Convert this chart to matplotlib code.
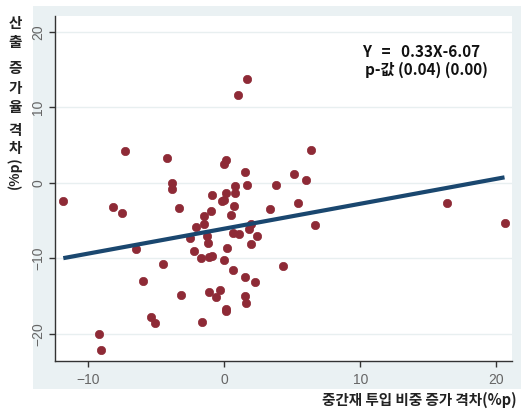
import matplotlib
matplotlib.use("Agg")
import matplotlib.pyplot as plt
from matplotlib.patches import Rectangle
import numpy as np

# data
x_vals = [1.69, 0.98, -7.3, -4.24, 0.0, 0.1, 1.5, 5.1, -3.82, -3.82, 1.69, 0.81, 0.81, 3.8,
          -11.84, -8.2, -7.52, -3.3, -0.9, 0.1, -0.15, -0.05, 0.69, -1.0, 0.49, -1.52, -1.52,
          3.38, 5.45, -2.1, -2.52, -1.27, -1.22, -2.23, -1.71, -1.1, -0.9, 0.17, -0.02, 0.66,
          1.06, 1.79, 1.96, 2.4, 1.99, -6.51, -4.5, 0.64, 1.5, 2.28, 4.32, -6.0, -3.2, -1.12,
          -0.29, -0.61, 1.5, 1.6, 0.1, 0.15, -5.39, -5.07, -1.62, -9.21, -9.1, 6.4, 6.0, 6.7,
          16.4, 20.6]
y_vals = [13.8, 11.6, 4.28, 3.27, 2.47, 3.05, 1.37, 1.19, 0.04, -0.8, -0.26, -0.4, -1.37, -0.35,
          -2.47, -3.18, -4.06, -3.3, -1.55, -1.28, -2.47, -2.25, -3.13, -3.67, -4.24, -4.33, -5.43,
          -3.44, -2.72, -5.83, -7.28, -7.1, -7.99, -9.05, -9.93, -9.76, -9.71, -8.57, -10.24, -6.58,
          -6.72, -6.14, -5.47, -6.98, -8.04, -8.7, -10.77, -11.57, -12.5, -13.2, -11.0, -12.98, -14.83, -14.48,
          -14.17, -15.1, -14.97, -15.9, -16.73, -16.95, -17.8, -18.6, -18.4, -19.96, -22.1, 4.37, 0.4, -5.56,
          -2.65, -5.34]
slope = 0.33
intercept = -6.07
x_ticks = [-10, 0, 10, 20]
y_ticks = [-20, -10, 0, 10, 20]
eq_text = "Y   =   0.33X-6.07"
p_text = "p-값 (0.04) (0.00)"
xlabel = "중간재 투입 비중 증가 격차(%p)"
ylabel_chars = ["산", "출", "증", "가", "율", "격", "차"]
ylabel_tail = "(%p)"

W, H = 521, 416
fig = plt.figure(figsize=(W / 100, H / 100), dpi=100)
fig.patch.set_facecolor("white")

# light blue-gray graph region
fig.patches.append(Rectangle((33 / W, 1 - 389 / H), 1 - 33 / W, (389 - 6) / H,
                             transform=fig.transFigure, facecolor="#EAF1F3",
                             edgecolor="none", zorder=-5))

ax = fig.add_axes([55 / W, 1 - 361 / H, (512 - 55) / W, (361 - 16) / H])
ax.set_zorder(2)
ax.set_facecolor("white")

ax.set_xlim(-12.45, 21.15)
ax.set_ylim(-23.6, 22.1)

for yt in y_ticks:
    ax.axhline(yt, color="#E8EFF0", lw=1.0, zorder=1)

ax.scatter(x_vals, y_vals, s=36, color="#8E2A36", edgecolors="#8E2A36", linewidths=0.5, zorder=3)

xs = np.array([min(x_vals), max(x_vals)])
ax.plot(xs, slope * xs + intercept, color="#1A476F", lw=3.0, zorder=4, solid_capstyle="butt")

for s in ["top", "right"]:
    ax.spines[s].set_visible(False)
for s in ["left", "bottom"]:
    ax.spines[s].set_color("#333333")
    ax.spines[s].set_linewidth(1.0)

ax.set_xticks(x_ticks)
ax.set_yticks(y_ticks)
ax.tick_params(axis="both", direction="out", length=4, width=1, color="#333333",
               labelcolor="#666666", labelsize=10)
for lab in ax.get_xticklabels():
    lab.set_fontfamily("Liberation Sans")
for lab in ax.get_yticklabels():
    lab.set_fontfamily("Liberation Sans")
    lab.set_rotation(90)
    lab.set_va("center")
ax.tick_params(axis="y", pad=3)
ax.tick_params(axis="x", pad=5)

kfont = ["Noto Sans CJK KR", "DejaVu Sans"]
fig.text(362 / W, 1 - 52 / H, eq_text, family=kfont, fontsize=11, fontweight="bold",
         ha="left", va="center", color="#111111", zorder=10)
fig.text(365 / W, 1 - 70 / H, p_text, family=kfont, fontsize=11, fontweight="bold",
         ha="left", va="center", color="#111111", zorder=10)

fig.text(517 / W, 1 - 400 / H, xlabel, family=kfont, fontsize=10.5, fontweight="bold",
         ha="right", va="center", color="#222222")

ypos = [23, 42, 68, 88, 107, 130, 148]
for ch, yp in zip(ylabel_chars, ypos):
    fig.text(15 / W, 1 - yp / H, ch, family=kfont, fontsize=10.5, fontweight="bold",
             ha="center", va="center", color="#222222")
fig.text(15 / W, 1 - 173 / H, ylabel_tail, family=kfont, fontsize=10, fontweight="bold",
         ha="center", va="center", rotation=90, color="#222222")

fig.savefig("out.png", dpi=100, facecolor="white")
